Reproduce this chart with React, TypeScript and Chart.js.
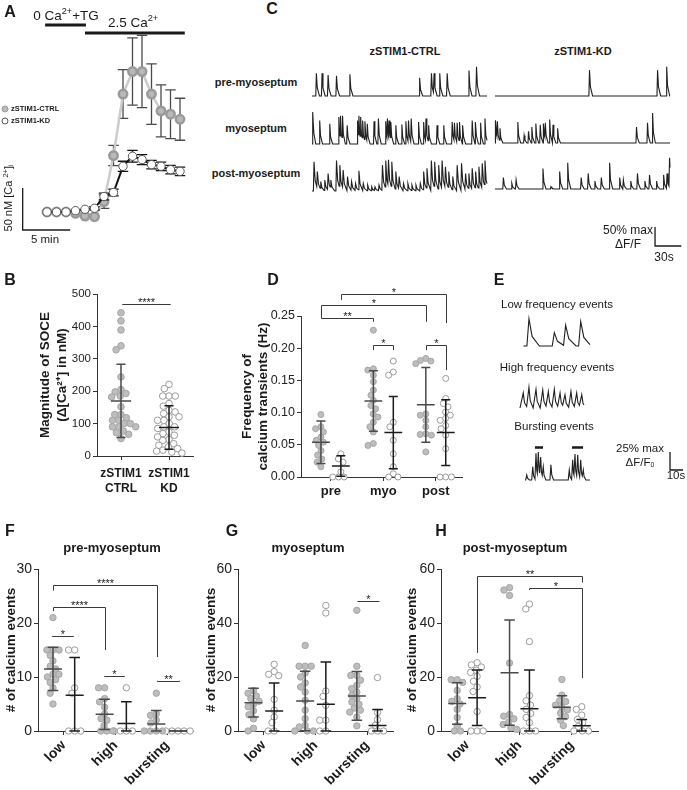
import React, { useEffect, useRef } from 'react';
import { Chart, registerables } from 'chart.js';
Chart.register(...registerables);

const FONT = '"Liberation Sans", Arial, Helvetica, sans-serif';
Chart.defaults.font.family = FONT;
Chart.defaults.color = '#1a1a1a';

// ---------------- DATA ----------------
// Panel A : [Ca2+]i time course (nM), one point per minute
const aMinutes = [0, 1, 2, 3, 4, 5, 6, 7, 8, 9, 10, 11, 12, 13, 14];
const aCtrlMean = [50, 50, 50, 48.4, 45.2, 44.4, 62.4, 117.2, 190.4, 217.2, 217.2, 190.4, 170.4, 166.4, 160.4];
const aCtrlErr = [0, 0, 0, 0, 0, 0, 8, 12, 29, 40, 43, 36, 31, 29, 25];
const aKdMean = [50, 50, 50, 51.6, 53.2, 54.4, 68.4, 73.2, 104.4, 116.4, 112.4, 106.4, 104.4, 100.4, 98.4];
const aKdErr = [0, 0, 0, 0, 0, 2, 4, 4, 6, 7, 6, 5, 5, 5, 5];
const aLegend = ['zSTIM1-CTRL', 'zSTIM1-KD'];

// Panel B : magnitude of SOCE (nM)
const bLabels = [['zSTIM1', 'CTRL'], ['zSTIM1', 'KD']];
const bCtrl = [442, 417, 389, 340, 328, 244, 205, 198, 193, 185, 182, 152, 128, 128, 118, 110, 110, 100, 100, 90, 90, 90, 77, 72, 67, 54];
const bKd = [221, 208, 185, 185, 185, 162, 154, 141, 136, 131, 121, 121, 110, 110, 100, 90, 90, 85, 74, 69, 64, 59, 51, 48, 38, 33, 28, 23, 18, 15, 12, 9];
const bMean = [170, 88];
const bSd = [113, 67];

// Panel C : calcium traces (spike time s, amplitude % max dF/F)
const cColumns = ['zSTIM1-CTRL', 'zSTIM1-KD'];
const cRows = ['pre-myoseptum', 'myoseptum', 'post-myoseptum'];
const cPreCtrlT = [5, 11.5, 18.4, 28, 43.3, 123, 136.5, 139.5, 146, 154.5, 179.4, 188];
const cPreCtrlA = [60, 60, 55, 53, 57, 48, 60, 60, 60, 60, 67, 77];
const cMyoCtrlT = [1.1, 8.8, 20.3, 30.7, 32.6, 34.9, 40.2, 52.1, 53.6, 55.6, 57.9, 60.5, 63.2, 70.9, 75.9, 84.3, 86.2, 88.1, 90.1, 95.8, 102.7, 107.3, 110.3, 113.4, 121.8, 127.6, 130.3, 133.3, 142.9, 150.6, 160.2, 162.8, 165.9, 168.6, 172.4, 183.1, 187, 192.7, 197.7];
const cMyoCtrlA = [84, 62, 53, 71, 74, 74, 49, 62, 74, 71, 62, 60, 53, 60, 67, 60, 67, 62, 58, 49, 51, 60, 62, 67, 58, 58, 67, 49, 49, 49, 58, 56, 56, 58, 49, 62, 58, 56, 67];
const cPostCtrlT = [2.3, 6.1, 10, 14.6, 18.4, 21.5, 28, 31.8, 35.6, 40.6, 45.2, 49.8, 53.6, 58.6, 63.6, 68.2, 72, 76.6, 80.5, 84.3, 87.4, 91.2, 95.8, 99.6, 104.6, 109.6, 114.2, 118.8, 123.8, 127.6, 131.4, 136.4, 140.2, 144.8, 148.7, 152.5, 156.3, 160.9, 165.9, 170.9, 175.5, 179.3, 183.1, 187, 190.8, 194.6, 197.7];
const cPostCtrlA = [77, 51, 25, 29, 46, 29, 80, 68, 55, 38, 25, 20, 53, 20, 16, 11, 11, 16, 68, 80, 82, 77, 51, 38, 20, 20, 16, 16, 20, 51, 60, 80, 77, 68, 80, 64, 51, 38, 68, 73, 46, 46, 60, 51, 64, 73, 80];
const cPreKdT = [108, 185.8, 196.2];
const cPreKdA = [68, 68, 77];
const cMyoKdT = [0.8, 2.7, 5.7, 26.1, 33.3, 38.3, 42.1, 46.7, 51.7, 55.6, 57.5, 62.5, 66.3, 71.6, 161.7, 174.3, 180.1];
const cMyoKdA = [60, 57, 39, 55, 20, 31, 42, 51, 48, 51, 53, 62, 48, 39, 42, 53, 79];
const cPostKdT = [9.6, 19.2, 24.1, 54.8, 64, 73.9, 83.1, 98.5, 106.5, 114.2, 121.5, 131, 142.5, 146.7, 155.2, 162.8, 171.3, 176.6, 184.7, 192.7, 196.6, 199.5];
const cPostKdA = [30, 15, 24, 54, 6, 46, 69, 30, 41, 21, 30, 69, 30, 24, 21, 41, 21, 37, 21, 37, 41, 82];

// Panel D : frequency of calcium transients (Hz)
const dLabels = ['pre', 'myo', 'post'];
const dPreCtrl = [0.097, 0.078, 0.075, 0.07, 0.062, 0.057, 0.054, 0.049, 0.041, 0.034, 0.028, 0.023, 0.016];
const dPreKd = [0.036, 0.028, 0.023, 0.008, 0, 0, 0];
const dMyoCtrl = [0.228, 0.168, 0.166, 0.158, 0.148, 0.135, 0.127, 0.119, 0.111, 0.106, 0.098, 0.093, 0.085, 0.078, 0.07, 0.052, 0.049];
const dMyoKd = [0.18, 0.163, 0.158, 0.085, 0.078, 0.057, 0.036, 0.016, 0.005, 0, 0];
const dPostCtrl = [0.184, 0.181, 0.18, 0.176, 0.098, 0.096, 0.088, 0.078, 0.067, 0.066, 0.065, 0.039];
const dPostKd = [0.153, 0.122, 0.114, 0.109, 0.101, 0.096, 0.091, 0.088, 0.08, 0.075, 0.065, 0.044, 0, 0, 0];
const dCtrlMean = [0.054, 0.118, 0.112];
const dCtrlSd = [0.033, 0.047, 0.058];
const dKdMean = [0.017, 0.069, 0.069];
const dKdSd = [0.016, 0.056, 0.051];

// Panel E : example events (time s, amplitude % max dF/F0)
const eTitles = ['Low frequency events', 'High frequency events', 'Bursting events'];
const eLowT = [6.9, 26.4, 35.1, 46.7];
const eLowA = [38, 18.5, 29, 34];
const eHighT = [2.5, 6.9, 12.3, 17.5, 21.8, 26.4, 30.8, 34.6, 39.2, 43.6, 47.5];
const eHighA = [21, 29, 26, 25, 23, 26, 21, 18.5, 23, 21, 18.5];
const eBurstT = [5.2, 9.8, 12.3, 14.1, 15.9, 17.9, 23.8, 37.9, 40.5, 42.3, 44.4, 46.7, 48.7];
const eBurstA = [7, 18.5, 37, 39, 32, 18.5, 21, 14, 28, 36, 35, 28, 14];
const eBurstBars = [[11.5, 17.7], [40, 48.5]];

// Panels F-H : # of calcium events
const evLabels = ['low', 'high', 'bursting'];
const fLowCtrl = [21, 15, 15, 15, 14, 13, 12, 11.5, 10.5, 10.5, 10, 9.5, 9, 8, 7, 5];
const fLowKd = [15, 15, 8, 7, 0, 0, 0];
const fHighCtrl = [8, 8, 6, 5.4, 4.4, 3.2, 2.3, 2, 1, 0, 0, 0];
const fHighKd = [8, 0, 0, 0, 0];
const fBurstCtrl = [7, 3.2, 2.9, 2, 1.5, 0, 0, 0, 0];
const fBurstKd = [0, 0, 0, 0, 0];
const fCtrlMean = [11.5, 3.1, 1.3];
const fCtrlSd = [4, 2.8, 2.5];
const fKdMean = [6.6, 1.4, 0];
const fKdSd = [7, 4, 0];

const gLowCtrl = [15, 14, 13, 12, 11, 10, 9, 7.5, 6, 4.5, 1, 0];
const gLowKd = [24.7, 22, 21, 20.5, 11.7, 7.7, 5.2, 3.1, 0, 0];
const gHighCtrl = [31.7, 24, 24, 24, 21.5, 20, 17.8, 16.3, 14.4, 11.4, 7.7, 4.6, 2.1, 1.5, 0, 0, 0];
const gHighKd = [46.5, 43.7, 14.8, 12.8, 9.5, 4, 4, 0, 0];
const gBurstCtrl = [44.7, 24, 20.6, 20.6, 18.8, 16.9, 15.7, 14.4, 13.2, 12, 10.7, 9.9, 8.5, 7.7, 7, 5.2, 1.9];
const gBurstKd = [19.8, 6.8, 4.2, 2.1, 0, 0, 0];
const gCtrlMean = [10.5, 11.1, 13];
const gCtrlSd = [5.3, 11, 9];
const gKdMean = [7.4, 9.9, 2];
const gKdSd = [10.4, 15.7, 6];

const hLowCtrl = [19, 19, 18, 15, 12, 11, 10, 8, 5, 2, 0, 0];
const hLowKd = [25.3, 24.5, 23.7, 22.5, 21.7, 20.2, 18.4, 16.3, 14.6, 7.2, 0, 0, 0];
const hHighCtrl = [53.1, 52.2, 50.2, 25.2, 6.1, 5.5, 4.5, 3.3, 2.4, 1.2, 0.6];
const hHighKd = [47, 45.2, 33.1, 13.1, 11.2, 9.6, 8, 6.5, 5, 3.1, 0, 0, 0];
const hBurstCtrl = [19.1, 13.3, 11.2, 10.9, 9.6, 8.8, 7.8, 6.6, 5.3, 4, 2];
const hBurstKd = [9, 8, 5.9, 4.3, 3.1, 1.6, 0, 0, 0];
const hCtrlMean = [10.2, 21.6, 8.8];
const hCtrlSd = [7.7, 19.5, 4.3];
const hKdMean = [12.3, 8.2, 1.9];
const hKdSd = [10.3, 14.4, 2.4];

// significance annotations (category units / value units)
type Bracket = { x1: number; x2: number; y: number; l1: number; l2: number; text: string };
const bBrackets: Bracket[] = [{ x1: 1.03, x2: 2.02, y: 469, l1: 469, l2: 469, text: '****' }];
const dBrackets: Bracket[] = [
  { x1: 1.19, x2: 3.19, y: 0.284, l1: 0.275, l2: 0.239, text: '*' },
  { x1: 0.81, x2: 2.81, y: 0.267, l1: 0.247, l2: 0.241, text: '*' },
  { x1: 0.81, x2: 1.81, y: 0.247, l1: 0.247, l2: 0.241, text: '**' },
  { x1: 1.81, x2: 2.19, y: 0.205, l1: 0.197, l2: 0.197, text: '*' },
  { x1: 2.81, x2: 3.19, y: 0.205, l1: 0.197, l2: 0.166, text: '*' },
];
const fBrackets: Bracket[] = [
  { x1: 0.79, x2: 2.8, y: 27, l1: 26, l2: 13.7, text: '****' },
  { x1: 0.79, x2: 1.8, y: 23, l1: 22.2, l2: 15, text: '****' },
  { x1: 0.77, x2: 1.18, y: 17.6, l1: 17.6, l2: 17.6, text: '*' },
  { x1: 1.78, x2: 2.17, y: 10.2, l1: 10.2, l2: 10.2, text: '*' },
  { x1: 2.8, x2: 3.23, y: 9.3, l1: 9.3, l2: 9.3, text: '**' },
];
const gBrackets: Bracket[] = [{ x1: 2.8, x2: 3.22, y: 48, l1: 48, l2: 48, text: '*' }];
const hBrackets: Bracket[] = [
  { x1: 1.19, x2: 3.19, y: 57.4, l1: 28.9, l2: 55, text: '**' },
  { x1: 2.19, x2: 3.19, y: 53, l1: 52.2, l2: 19.6, text: '*' },
];

// ---------------- HELPERS ----------------
const CTRL_FILL = '#bdbdbd';
const CTRL_EDGE = '#a6a6a6';
const KD_EDGE = '#9a9a9a';

function swarm(vals: number[], xPx: number, yPx: number, r: number): number[] {
  const idx = vals.map((_, i) => i).sort((a, b) => vals[b] - vals[a]);
  const placed: { x: number; y: number }[] = [];
  const out = new Array(vals.length).fill(0);
  const d = 2 * r * 0.95;
  for (const i of idx) {
    const y = vals[i] * yPx;
    const near = placed.filter((p) => Math.abs(p.y - y) < d);
    const cands = [0];
    for (const p of near) {
      const dx = Math.sqrt(Math.max(0, d * d - (p.y - y) ** 2));
      cands.push(p.x + dx, p.x - dx);
    }
    cands.sort((a, b) => Math.abs(a) - Math.abs(b) || a - b);
    let best = 0;
    for (const c of cands) {
      if (near.every((p) => (p.x - c) ** 2 + (p.y - y) ** 2 >= d * d - 0.05)) { best = c; break; }
    }
    placed.push({ x: best, y });
    out[i] = best / xPx;
  }
  return out;
}

function bracketPlugin(list: Bracket[], size: number) {
  return {
    id: 'brackets',
    afterDraw(chart: any) {
      const { ctx } = chart;
      const xs = chart.scales.x, ys = chart.scales.y;
      ctx.save();
      ctx.strokeStyle = '#3a3a3a';
      ctx.lineWidth = 1;
      ctx.fillStyle = '#1a1a1a';
      ctx.font = `${size}px ${FONT}`;
      ctx.textAlign = 'center';
      ctx.textBaseline = 'alphabetic';
      for (const b of list) {
        const X1 = Math.round(xs.getPixelForValue(b.x1)) + 0.5;
        const X2 = Math.round(xs.getPixelForValue(b.x2)) + 0.5;
        const Y = Math.round(ys.getPixelForValue(b.y)) + 0.5;
        ctx.beginPath();
        ctx.moveTo(X1, ys.getPixelForValue(b.l1));
        ctx.lineTo(X1, Y);
        ctx.lineTo(X2, Y);
        ctx.lineTo(X2, ys.getPixelForValue(b.l2));
        ctx.stroke();
        ctx.fillText(b.text, (X1 + X2) / 2, Y + size * 0.18);
      }
      ctx.restore();
    },
  };
}

interface Grp { vals: number[]; x: number; ctrl: boolean; mean: number; sd: number }
interface DotOpts {
  groups: Grp[]; xMin: number; xMax: number; xTicks: number[]; xLabels: any[];
  yMin: number; yMax: number; yStep: number; yDec: number;
  yTitle: string | string[]; yTitlePad: number; titleLH: number;
  pad: { left: number; right: number; top: number; bottom: number };
  yw: number; xh: number; areaW: number; areaH: number;
  tickSize: number; catSize: number; rotate: number; catPad: number;
  r: number; meanHalf: number; capHalf: number; brackets: Bracket[]; starSize: number;
}

function dotConfig(o: DotOpts) {
  const xPx = o.areaW / (o.xMax - o.xMin);
  const yPx = o.areaH / (o.yMax - o.yMin);
  const datasets: any[] = [];
  for (const g of o.groups) {
    const col = g.ctrl ? '#4a4a4a' : '#1c1c1c';
    const lo = Math.max(o.yMin, g.mean - g.sd);
    const hi = g.mean + g.sd;
    const x = g.x;
    datasets.push({
      type: 'scatter', showLine: true, order: 0, clip: false,
      borderColor: col, borderWidth: 1.5, pointRadius: 0, spanGaps: false,
      data: [
        { x: x - o.meanHalf, y: g.mean }, { x: x + o.meanHalf, y: g.mean }, { x, y: null },
        { x, y: lo }, { x, y: hi }, { x, y: null },
        { x: x - o.capHalf, y: hi }, { x: x + o.capHalf, y: hi }, { x, y: null },
        { x: x - o.capHalf, y: lo }, { x: x + o.capHalf, y: lo },
      ],
    });
    const offs = swarm(g.vals, xPx, yPx, o.r);
    datasets.push({
      type: 'scatter', order: 1, clip: false,
      data: g.vals.map((v, i) => ({ x: x + offs[i], y: v })),
      pointRadius: o.r, pointHoverRadius: o.r,
      backgroundColor: g.ctrl ? CTRL_FILL : '#ffffff',
      pointBackgroundColor: g.ctrl ? CTRL_FILL : '#ffffff',
      borderColor: g.ctrl ? CTRL_EDGE : KD_EDGE,
      pointBorderColor: g.ctrl ? CTRL_EDGE : KD_EDGE,
      pointBorderWidth: 1,
    });
  }
  const axisCol = '#333';
  return {
    type: 'scatter',
    data: { datasets },
    plugins: [bracketPlugin(o.brackets, o.starSize)],
    options: {
      responsive: false, animation: false, events: [],
      layout: { padding: o.pad, autoPadding: false },
      plugins: { legend: { display: false }, tooltip: { enabled: false } },
      scales: {
        x: {
          type: 'linear', min: o.xMin, max: o.xMax,
          afterBuildTicks: (s: any) => { s.ticks = o.xTicks.map((v) => ({ value: v })); },
          afterFit: (s: any) => { s.height = o.xh; },
          grid: { display: true, drawOnChartArea: false, drawTicks: true, tickLength: 4, color: axisCol, lineWidth: 1 },
          border: { display: true, color: axisCol, width: 1 },
          ticks: {
            autoSkip: false, maxRotation: o.rotate, minRotation: o.rotate, padding: o.catPad,
            font: { size: o.catSize, weight: 'bold', lineHeight: 1.25 }, color: '#1a1a1a',
            callback: (_v: any, i: number) => o.xLabels[i],
          },
        },
        y: {
          type: 'linear', min: o.yMin, max: o.yMax,
          afterFit: (s: any) => { s.width = o.yw; },
          grid: { display: true, drawOnChartArea: false, drawTicks: true, tickLength: 4, color: axisCol, lineWidth: 1 },
          border: { display: true, color: axisCol, width: 1 },
          ticks: {
            stepSize: o.yStep, padding: 2, font: { size: o.tickSize }, color: '#222',
            callback: (v: any) => Number(v).toFixed(o.yDec),
          },
          title: {
            display: true, text: o.yTitle, color: '#1a1a1a',
            font: { size: 13.5, weight: 'bold', lineHeight: o.titleLH },
            padding: { top: o.yTitlePad, bottom: 0 },
          },
        },
      },
    },
  };
}

function groups3(ctrl: number[][], kd: number[][], cm: number[], cs: number[], km: number[], ks: number[], off: number): Grp[] {
  const g: Grp[] = [];
  for (let i = 0; i < 3; i++) {
    g.push({ vals: ctrl[i], x: i + 1 - off, ctrl: true, mean: cm[i], sd: cs[i] });
    g.push({ vals: kd[i], x: i + 1 + off, ctrl: false, mean: km[i], sd: ks[i] });
  }
  return g;
}

function buildTrace(ts: number[], as: number[], t0: number, t1: number, off: number, rise: number, D: number) {
  const f = (d: number) => (d <= 0 ? 1 : d < 0.3 * D ? 1 - (0.65 * d) / (0.3 * D) : d < D ? 0.35 * (1 - (d - 0.3 * D) / (0.7 * D)) : 0);
  const pts: { x: number; y: number }[] = [{ x: t0, y: off }];
  for (let i = 0; i < ts.length; i++) {
    const t = ts[i], a = as[i];
    const last = pts[pts.length - 1];
    if (t - rise > last.x) pts.push({ x: t - rise, y: off });
    pts.push({ x: t, y: off + a });
    const nextRs = i + 1 < ts.length ? Math.max(t + 0.2, ts[i + 1] - rise) : t1;
    const end = Math.min(t + D, nextRs);
    if (t + 0.3 * D < end) pts.push({ x: t + 0.3 * D, y: off + 0.35 * a });
    pts.push({ x: end, y: off + a * f(end - t) });
  }
  if (pts[pts.length - 1].x < t1) pts.push({ x: t1, y: off });
  return pts;
}

function traceDataset(pts: any[]) {
  return { type: 'scatter', showLine: true, data: pts, borderColor: '#202020', borderWidth: 1.1, pointRadius: 0, clip: false };
}

function traceConfig(datasets: any[], x: [number, number], y: [number, number], pad: any, extra: any[]) {
  return {
    type: 'scatter',
    data: { datasets },
    plugins: extra,
    options: {
      responsive: false, animation: false, events: [],
      layout: { padding: pad, autoPadding: false },
      plugins: { legend: { display: false }, tooltip: { enabled: false } },
      scales: {
        x: { type: 'linear', min: x[0], max: x[1], display: false },
        y: { type: 'linear', min: y[0], max: y[1], display: false },
      },
    },
  };
}

function scaleBarPlugin(x0: number, y0: number, dx: number, dy: number) {
  return {
    id: 'scalebar',
    afterDraw(chart: any) {
      const { ctx } = chart;
      const xs = chart.scales.x, ys = chart.scales.y;
      ctx.save();
      ctx.strokeStyle = '#1a1a1a';
      ctx.lineWidth = 1.3;
      ctx.beginPath();
      ctx.moveTo(xs.getPixelForValue(x0), ys.getPixelForValue(y0 + dy));
      ctx.lineTo(xs.getPixelForValue(x0), ys.getPixelForValue(y0));
      ctx.lineTo(xs.getPixelForValue(x0 + dx), ys.getPixelForValue(y0));
      ctx.stroke();
      ctx.restore();
    },
  };
}

function errSegs(xs: number[], m: number[], e: number[], cap: number) {
  const d: any[] = [];
  xs.forEach((x, i) => {
    if (e[i] <= 0) return;
    const lo = m[i] - e[i], hi = m[i] + e[i];
    d.push({ x, y: lo }, { x, y: hi }, { x, y: null },
      { x: x - cap, y: hi }, { x: x + cap, y: hi }, { x, y: null },
      { x: x - cap, y: lo }, { x: x + cap, y: lo }, { x, y: null });
  });
  return d;
}

// ---------------- CHART CONFIGS ----------------
function configA() {
  const pts = (m: number[]) => aMinutes.map((x, i) => ({ x, y: m[i] }));
  const plugin = {
    id: 'panelA',
    afterDraw(chart: any) {
      const { ctx } = chart;
      const xs = chart.scales.x, ys = chart.scales.y;
      ctx.save();
      ctx.strokeStyle = '#1a1a1a';
      ctx.lineWidth = 1.3;
      ctx.beginPath();
      ctx.moveTo(xs.getPixelForValue(-2.56), ys.getPixelForValue(78.6));
      ctx.lineTo(xs.getPixelForValue(-2.56), ys.getPixelForValue(28.6));
      ctx.lineTo(xs.getPixelForValue(2.44), ys.getPixelForValue(28.6));
      ctx.stroke();
      ctx.lineWidth = 3;
      ctx.beginPath();
      ctx.moveTo(xs.getPixelForValue(-0.2), ys.getPixelForValue(272.6));
      ctx.lineTo(xs.getPixelForValue(4.1), ys.getPixelForValue(272.6));
      ctx.moveTo(xs.getPixelForValue(4.0), ys.getPixelForValue(263.1));
      ctx.lineTo(xs.getPixelForValue(14.5), ys.getPixelForValue(263.1));
      ctx.stroke();
      // legend
      ctx.lineWidth = 1;
      ctx.font = `bold 7.5px ${FONT}`;
      ctx.textBaseline = 'middle';
      ctx.textAlign = 'left';
      ctx.fillStyle = '#bbbbbb'; ctx.strokeStyle = '#999';
      ctx.beginPath(); ctx.arc(5, 109, 3, 0, Math.PI * 2); ctx.fill(); ctx.stroke();
      ctx.fillStyle = '#ffffff'; ctx.strokeStyle = '#555';
      ctx.beginPath(); ctx.arc(5, 121, 3, 0, Math.PI * 2); ctx.fill(); ctx.stroke();
      ctx.fillStyle = '#1a1a1a';
      ctx.fillText(aLegend[0], 11, 109);
      ctx.fillText(aLegend[1], 11, 121);
      ctx.restore();
    },
  };
  return {
    type: 'scatter',
    data: {
      datasets: [
        { type: 'scatter', showLine: true, order: 4, data: errSegs(aMinutes, aCtrlMean, aCtrlErr, 0.55), borderColor: '#4a4a4a', borderWidth: 1.3, pointRadius: 0, clip: false },
        { type: 'scatter', showLine: true, order: 3, data: pts(aCtrlMean), borderColor: '#cccccc', borderWidth: 2.5, pointRadius: 4.2, pointBackgroundColor: '#b8b8b8', backgroundColor: '#b8b8b8', pointBorderColor: '#9a9a9a', borderJoinStyle: 'round', clip: false },
        { type: 'scatter', showLine: true, order: 2, data: errSegs(aMinutes, aKdMean, aKdErr, 0.55), borderColor: '#111', borderWidth: 1.3, pointRadius: 0, clip: false },
        { type: 'scatter', showLine: true, order: 1, data: pts(aKdMean), borderColor: '#111111', borderWidth: 2, pointRadius: 4.2, pointBackgroundColor: '#ffffff', backgroundColor: '#ffffff', pointBorderColor: '#555', pointBorderWidth: 1, clip: false },
      ],
    },
    plugins: [plugin],
    options: {
      responsive: false, animation: false, events: [],
      layout: { padding: { left: 9, right: 6, top: 2, bottom: 6 }, autoPadding: false },
      plugins: { legend: { display: false }, tooltip: { enabled: false } },
      scales: {
        x: { type: 'linear', min: -4, max: 16, display: false },
        y: { type: 'linear', min: 0, max: 300, display: false },
      },
    },
  };
}

function configB() {
  return dotConfig({
    groups: [
      { vals: bCtrl, x: 1, ctrl: true, mean: bMean[0], sd: bSd[0] },
      { vals: bKd, x: 2, ctrl: false, mean: bMean[1], sd: bSd[1] },
    ],
    xMin: 0.5, xMax: 2.5, xTicks: [1, 2], xLabels: bLabels,
    yMin: 0, yMax: 500, yStep: 100, yDec: 0,
    yTitle: ['Magnitude of SOCE', '(\u0394[Ca\u00B2\u207A] in nM)'], yTitlePad: 36.6, titleLH: 1.25,
    pad: { left: 0, right: 12, top: 10, bottom: 0 }, yw: 97, xh: 43, areaW: 96, areaH: 162,
    tickSize: 11.5, catSize: 12, rotate: 0, catPad: 6,
    r: 3.3, meanHalf: 0.21, capHalf: 0.094, brackets: bBrackets, starSize: 11,
  });
}

function configD() {
  return dotConfig({
    groups: groups3([dPreCtrl, dMyoCtrl, dPostCtrl], [dPreKd, dMyoKd, dPostKd], dCtrlMean, dCtrlSd, dKdMean, dKdSd, 0.19),
    xMin: 0.43, xMax: 3.5, xTicks: [1, 2, 3], xLabels: dLabels,
    yMin: 0, yMax: 0.25, yStep: 0.05, yDec: 2,
    yTitle: ['Frequency of', 'calcium transients (Hz)'], yTitlePad: 9, titleLH: 1.185,
    pad: { left: 0, right: 8, top: 32, bottom: 0 }, yw: 71, xh: 22, areaW: 161, areaH: 161,
    tickSize: 12.5, catSize: 13, rotate: 0, catPad: 2,
    r: 3, meanHalf: 0.17, capHalf: 0.086, brackets: dBrackets, starSize: 11,
  });
}

function configEv(ctrl: number[][], kd: number[][], cm: number[], cs: number[], km: number[], ks: number[], yMax: number, yStep: number, off: number, yw: number, right: number, areaW: number, titlePad: number, brackets: Bracket[]) {
  const xPx = areaW / 3;
  return dotConfig({
    groups: groups3(ctrl, kd, cm, cs, km, ks, off),
    xMin: 0.5, xMax: 3.5, xTicks: [1, 2, 3], xLabels: evLabels,
    yMin: 0, yMax, yStep, yDec: 0,
    yTitle: '# of calcium events', yTitlePad: titlePad, titleLH: 1.2,
    pad: { left: 0, right, top: 39, bottom: 0 }, yw, xh: 59, areaW, areaH: 162,
    tickSize: 14, catSize: 14, rotate: 45, catPad: 2,
    r: 3.2, meanHalf: 9 / xPx, capHalf: 5.3 / xPx, brackets, starSize: 11,
  });
}

function configCctrl() {
  const rows = [0, -126.3, -250];
  return traceConfig([
    traceDataset(buildTrace(cPreCtrlT, cPreCtrlA, 0, 200, rows[0], 0.7, 3.5)),
    traceDataset(buildTrace(cMyoCtrlT, cMyoCtrlA, 0, 200, rows[1], 0.6, 3.2)),
    traceDataset(buildTrace(cPostCtrlT, cPostCtrlA, 0, 200, rows[2], 0.7, 4.5)),
  ], [0, 200], [-273.7, 94.7], { left: 7, right: 3, top: 0, bottom: 0 }, []);
}

function configCkd() {
  const rows = [0, -123.7, -244.7];
  return traceConfig([
    traceDataset(buildTrace(cPreKdT, cPreKdA, 0, 200, rows[0], 0.7, 3.5)),
    traceDataset(buildTrace(cMyoKdT, cMyoKdA, 0, 200, rows[1], 0.6, 3.2)),
    traceDataset(buildTrace(cPostKdT, cPostKdA, 0, 200, rows[2], 0.7, 3.5)),
  ], [0, 200], [-273.7, 94.7], { left: 5, right: 17, top: 0, bottom: 65 }, [scaleBarPlugin(182.9, -394.8, 30, 50)]);
}

function configE() {
  const rows = [0, -86.1, -186.1];
  const bars = {
    id: 'burstBars',
    afterDraw(chart: any) {
      const { ctx } = chart;
      const xs = chart.scales.x, ys = chart.scales.y;
      ctx.save();
      ctx.strokeStyle = '#1a1a1a';
      ctx.lineWidth = 2.5;
      ctx.beginPath();
      for (const [a, b] of eBurstBars) {
        ctx.moveTo(xs.getPixelForValue(a), ys.getPixelForValue(rows[2] + 45));
        ctx.lineTo(xs.getPixelForValue(b), ys.getPixelForValue(rows[2] + 45));
      }
      ctx.stroke();
      ctx.restore();
    },
  };
  return traceConfig([
    traceDataset(buildTrace(eLowT, eLowA, 2.6, 53.8, rows[0], 1.6, 8)),
    traceDataset(buildTrace(eHighT, eHighA, 0, 49.2, rows[1], 1.8, 3.2)),
    traceDataset(buildTrace(eBurstT, eBurstA, 3.8, 53.8, rows[2], 0.8, 2)),
  ], [0, 60], [-200, 50], { left: 15, right: 89, top: 0, bottom: 0 }, [bars, scaleBarPlugin(115.4, -172.2, 10, 25)]);
}

// ---------------- COMPONENTS ----------------
function ChartBox({ left, top, width, height, make }: { left: number; top: number; width: number; height: number; make: () => any }) {
  const ref = useRef<HTMLCanvasElement | null>(null);
  useEffect(() => {
    if (!ref.current) return;
    const chart = new Chart(ref.current, make());
    return () => chart.destroy();
  }, []);
  return <canvas ref={ref} width={width} height={height} style={{ position: 'absolute', left, top, width, height }} />;
}

function T({ x, y, children, size = 12, bold = false, align = 'center', rotate = 0 }: any) {
  const tx = align === 'center' ? '-50%' : align === 'right' ? '-100%' : '0';
  return (
    <div style={{ position: 'absolute', left: x, top: y, transform: `translate(${tx}, -50%) rotate(${rotate}deg)`, fontSize: size, fontWeight: bold ? 700 : 400, whiteSpace: 'nowrap', lineHeight: 1, color: '#1a1a1a' }}>
      {children}
    </div>
  );
}

const supS: React.CSSProperties = { fontSize: '0.68em', verticalAlign: 'top', position: 'relative', top: '-0.2em' };
const subS: React.CSSProperties = { fontSize: '0.6em', verticalAlign: 'bottom', position: 'relative', top: '0.1em' };

export default function App() {
  return (
    <div style={{ position: 'absolute', left: 0, top: 0, width: 687, height: 790, background: '#fff', fontFamily: FONT, overflow: 'hidden' }}>
      <ChartBox left={0} top={0} width={205} height={260} make={configA} />
      <ChartBox left={0} top={284} width={205} height={215} make={configB} />
      <ChartBox left={305} top={60} width={185} height={140} make={configCctrl} />
      <ChartBox left={490} top={60} width={197} height={205} make={configCkd} />
      <ChartBox left={230} top={284} width={240} height={215} make={configD} />
      <ChartBox left={505} top={310} width={182} height={180} make={configE} />
      <ChartBox left={0} top={530} width={215} height={260} make={() => configEv([fLowCtrl, fHighCtrl, fBurstCtrl], [fLowKd, fHighKd, fBurstKd], fCtrlMean, fCtrlSd, fKdMean, fKdSd, 30, 10, 0.21, 38, 22, 155, 3.6, fBrackets)} />
      <ChartBox left={200} top={530} width={210} height={260} make={() => configEv([gLowCtrl, gHighCtrl, gBurstCtrl], [gLowKd, gHighKd, gBurstKd], gCtrlMean, gCtrlSd, gKdMean, gKdSd, 60, 20, 0.2, 38, 17, 155, 2.9, gBrackets)} />
      <ChartBox left={400} top={530} width={210} height={260} make={() => configEv([hLowCtrl, hHighCtrl, hBurstCtrl], [hLowKd, hHighKd, hBurstKd], hCtrlMean, hCtrlSd, hKdMean, hKdSd, 60, 20, 0.19, 41, 12, 157, 3.9, hBrackets)} />

      {/* panel letters */}
      <T x={10} y={12} size={16} bold>A</T>
      <T x={10} y={280} size={16} bold>B</T>
      <T x={272} y={9} size={16} bold>C</T>
      <T x={273} y={280} size={16} bold>D</T>
      <T x={499} y={280} size={16} bold>E</T>
      <T x={10} y={531} size={16} bold>F</T>
      <T x={232} y={531} size={16} bold>G</T>
      <T x={441} y={531} size={16} bold>H</T>

      {/* panel A text */}
      <T x={66} y={16} size={13.5}>0 Ca<span style={supS}>2+</span>+TG</T>
      <T x={133} y={23} size={13.5}>2.5 Ca<span style={supS}>2+</span></T>
      <T x={8} y={198} size={11} rotate={-90}>50 nM [Ca <span style={supS}>2+</span>]<span style={subS}>i</span></T>
      <T x={45} y={240} size={11.5}>5 min</T>

      {/* panel C text */}
      <T x={405} y={51} size={11} bold>{cColumns[0]}</T>
      <T x={583} y={51} size={11} bold>{cColumns[1]}</T>
      <T x={256} y={82} size={11} bold>{cRows[0]}</T>
      <T x={256} y={128} size={11} bold>{cRows[1]}</T>
      <T x={256} y={173} size={11} bold>{cRows[2]}</T>
      <T x={628} y={230} size={12}>50% max</T>
      <T x={628} y={244} size={12}>ΔF/F</T>
      <T x={664} y={257} size={12}>30s</T>

      {/* panel E text */}
      <T x={557} y={305} size={11.5}>{eTitles[0]}</T>
      <T x={557} y={368} size={11.5}>{eTitles[1]}</T>
      <T x={554} y={427} size={11.5}>{eTitles[2]}</T>
      <T x={640} y={449} size={11.5}>25% max</T>
      <T x={640} y={463} size={11.5}>ΔF/F<span style={subS}>0</span></T>
      <T x={676} y={476} size={11.5}>10s</T>

      {/* F-H titles */}
      <T x={112} y={547} size={13} bold>pre-myoseptum</T>
      <T x={308} y={547} size={13} bold>myoseptum</T>
      <T x={515} y={547} size={13} bold>post-myoseptum</T>
    </div>
  );
}
